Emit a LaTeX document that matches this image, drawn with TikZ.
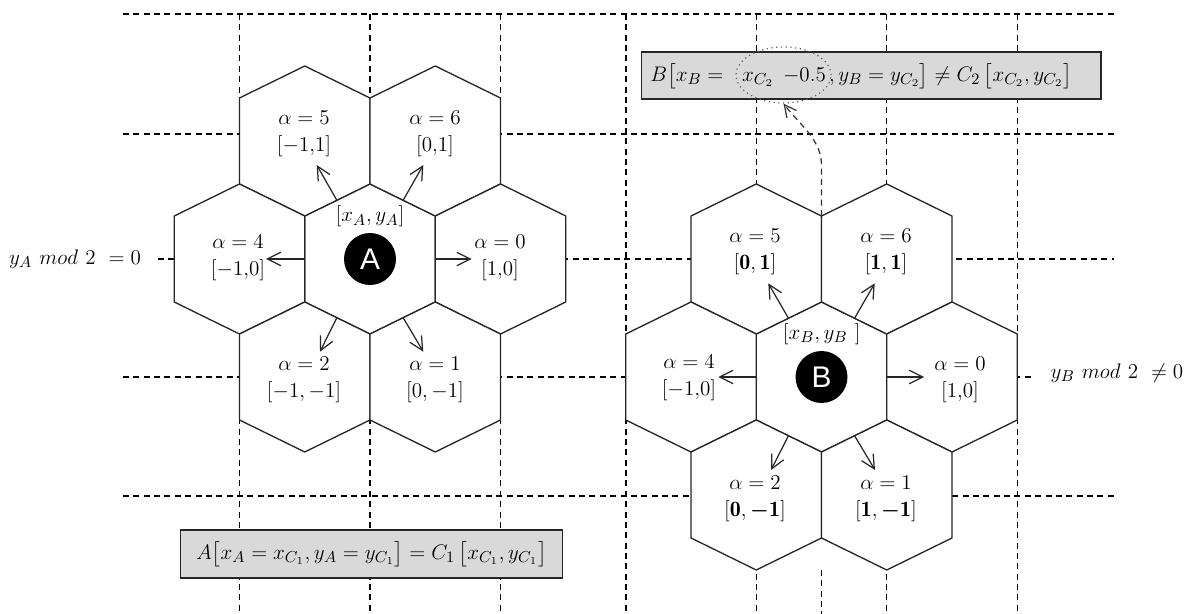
\documentclass[tikz,border=0pt]{standalone}
\usepackage{amsmath}
\usepackage{fontspec}
\newfontfamily\lsans{Liberation Sans}
\usetikzlibrary{arrows.meta,shapes.geometric}
\newcommand{\hexcell}[2]{\draw[hexline] (#1,#2) ++(0,-75) -- ++(65.25,32) -- ++(0,86) -- ++(-65.25,32) -- ++(-65.25,-32) -- ++(0,-86) -- cycle;}
\begin{document}
\begin{tikzpicture}[x=0.02cm,y=-0.02cm,
  grid/.style={dash pattern=on 3.4pt off 2.5pt, line width=0.6pt, black},
  hexline/.style={draw=black!85, line width=0.75pt, fill=white},
  lbl/.style={font=\fontsize{12.5}{15.5}\selectfont, align=center, inner sep=0pt},
  arr/.style={line width=0.7pt, black!85, -{Straight Barb[length=2.7mm,width=2.7mm]}},
  disc/.style={circle, fill=black, text=white, minimum size=1.04cm, inner sep=0pt, font=\lsans\fontsize{17}{17}\selectfont},
  eqbox/.style={draw=black!85, fill=black!15, line width=0.8pt, inner sep=0pt},
  btxt/.style={inner sep=0pt, font=\fontsize{12.5}{14}\selectfont}
]
\useasboundingbox (0,0) rectangle (1193,614);
% grid
\foreach \y/\xa/\xb in {14/123/1114, 134/123/1114, 259/158/1114, 377/123/1032, 496/123/1115}
  \draw[grid] (\xa,\y) -- (\xb,\y);
\foreach \x in {239.5,370,500.5,626,756.25,886.75,1017.25}
  \draw[grid] (\x,14) -- (\x,614);
\draw[grid] (821.5,570) -- (821.5,614);
% left cluster
\hexcell{370}{259}
\hexcell{304.75}{141}\hexcell{435.25}{141}
\hexcell{239.5}{259}\hexcell{500.5}{259}
\hexcell{304.75}{377}\hexcell{435.25}{377}
% right cluster
\hexcell{821.5}{377}
\hexcell{756.25}{259}\hexcell{886.75}{259}
\hexcell{691}{377}\hexcell{952}{377}
\hexcell{756.25}{495}\hexcell{886.75}{495}
% left labels
\node[lbl] (la5) at (304,133.5) {$\alpha = 5$\\$[-1{,}1]$};
\node[lbl] (la6) at (435,133.5) {$\alpha = 6$\\$[0{,}1]$};
\node[lbl] (la4) at (238,257.5) {$\alpha = 4$\\$[-1{,}0]$};
\node[lbl] (la0) at (500,257.5) {$\alpha = 0$\\$[1{,}0]$};
\node[lbl] (la2) at (304,379.5) {$\alpha = 2$\\$[-1,-1]$};
\node[lbl] (la1) at (435,379.5) {$\alpha = 1$\\$[0,-1]$};
\node[lbl] (lxa) at (370,216.7) {$[x_A,y_A]$};
\node[disc] (A) at (370,259) {A};
% right labels
\node[lbl] (lb5) at (755,251.7) {$\alpha = 5$\\$[\mathbf{0},\mathbf{1}]$};
\node[lbl] (lb6) at (886,251.7) {$\alpha = 6$\\$[\mathbf{1},\mathbf{1}]$};
\node[lbl] (lb4) at (689,378) {$\alpha = 4$\\$[-1{,}0]$};
\node[lbl] (lb0) at (960,379.5) {$\alpha = 0$\\$[1{,}0]$};
\node[lbl] (lb2) at (755,499) {$\alpha = 2$\\$[\mathbf{0},\boldsymbol{-}\mathbf{1}]$};
\node[lbl] (lb1) at (886,499) {$\alpha = 1$\\$[\mathbf{1},\boldsymbol{-}\mathbf{1}]$};
\node[lbl] (lxb) at (821.7,334) {$[x_B,y_B\ ]$};
\node[disc] (B) at (821.5,377) {B};
% side labels
\node[lbl] (ya) at (75,259) {$y_A\ mod\ 2\ = 0$};
\node[lbl] (yb) at (1117,373) {$y_B\ mod\ 2\ \neq 0$};
% arrow coordinates (left)
\coordinate (a5s) at (336.7,200); \coordinate (a5e) at (316.7,165);
\coordinate (a6s) at (403.3,200); \coordinate (a6e) at (423.3,165);
\coordinate (a4s) at (304.75,259); \coordinate (a4e) at (266,259);
\coordinate (a0s) at (435.25,259); \coordinate (a0e) at (471.7,259);
\coordinate (a2s) at (336.7,318); \coordinate (a2e) at (320,351.7);
\coordinate (a1s) at (403.3,318); \coordinate (a1e) at (423.3,351.7);
\foreach \n in {5,6,4,0,2,1} \draw[arr] (a\n s) -- (a\n e);
% arrow coordinates (right)
\coordinate (b5s) at (788.3,318); \coordinate (b5e) at (768.3,283.3);
\coordinate (b6s) at (854.7,318); \coordinate (b6e) at (874.7,283.3);
\coordinate (b4s) at (756.25,377); \coordinate (b4e) at (718.3,377);
\coordinate (b0s) at (886.75,377); \coordinate (b0e) at (924,377);
\coordinate (b2s) at (788.3,436); \coordinate (b2e) at (771,470);
\coordinate (b1s) at (854.7,436); \coordinate (b1e) at (875,470);
\foreach \n in {5,6,4,0,2,1} \draw[arr] (b\n s) -- (b\n e);
% box B
\node[eqbox, minimum width=9.19cm, minimum height=0.94cm] (boxB) at (871.3,75.5) {};
\node[btxt] (bmid) at (784,77) {$x_{C_2}\;\,{-}0.5$};
\node[btxt, anchor=base east] (bleft) at ([xshift=-0.36cm]bmid.base west) {$B\bigl[x_B =$};
\node[btxt, anchor=base west] (bright) at ([xshift=0.05cm]bmid.base east) {$, y_B = y_{C_2}\bigr] \neq C_2\,\bigl[x_{C_2}, y_{C_2}\bigr]$};
\node[draw=black!60, dotted, line width=0.7pt, ellipse, minimum width=1.9cm, minimum height=1.12cm, inner sep=0pt] (ell) at (783.5,75) {};
% box A
\node[eqbox, minimum width=7.64cm, minimum height=0.96cm, font=\fontsize{12.5}{14}\selectfont] (boxA) at (371.6,554)
  {$A\bigl[x_A = x_{C_1}, y_A = y_{C_1}\bigr] = C_1\,\bigl[x_{C_1}, y_{C_1}\bigr]$};
% dashed pointer
\coordinate (junc) at (821.5,216);
\draw[black!80, line width=0.7pt, dash pattern=on 3.4pt off 2.5pt, -{Straight Barb[length=2.4mm,width=2.4mm]}]
  (junc) -- (821.5,165) .. controls (821.5,140) and (800,125) .. (ell.south);
\end{tikzpicture}
\end{document}
